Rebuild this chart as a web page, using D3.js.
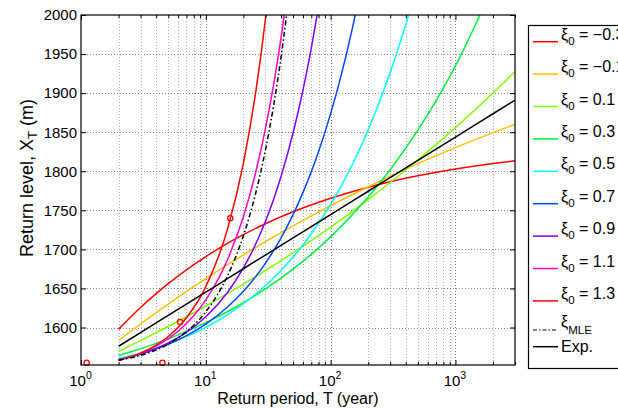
<!DOCTYPE html>
<html><head><meta charset="utf-8">
<script src="https://cdnjs.cloudflare.com/ajax/libs/d3/7.8.5/d3.min.js"></script>
<style>
body{margin:0;background:#fff}
svg{display:block}
text{font-family:"Liberation Sans",Arial,Helvetica,sans-serif;fill:#000}
</style>
</head><body>
<svg id="c" width="618" height="409"></svg>
<script>
// ---- data ----
const periods = [2,3,4,5,7,10,15,20,25,30,35,40,50,60,70,80,100,120,150,200,300,400,500,1000,2000,3000];
const xiNeg03 = [1597.8,1625.6,1643.4,1656.1,1673.8,1690.7,1707.9,1718.8,null,1732.8,null,null,1748.1,null,null,null,1765.4,null,null,1779.5,1786.5,null,1794.1,1802.8,1809.9,1813.4];
const xiNeg01 = [1583.3,1604.5,1619.0,1630.0,1646.1,1662.6,1680.7,1693.0,null,1709.9,null,null,1730.1,null,null,null,1756.0,null,null,1780.2,1793.6,null,1809.7,1830.2,1849.4,1860.0];
const xi01 = [1569.5,1583.2,1593.3,1601.4,1613.8,1627.5,1643.7,1655.5,null,1672.8,null,null,1695.7,null,null,null,1728.6,null,null,1763.8,1785.6,null,1814.4,1855.8,1900.2,1927.6];
const xi03 = [1564,1572.8,1579.7,1585.5,1595.0,1606.2,1620.5,1631.7,null,1649.3,null,null,1674.7,null,null,null,1716.0,null,null,1766.9,1801.9,null,1852.6,1935.0,2036.5,null];
const xi05 = [1560,1567.3,1573.5,1578.9,1588.3,1600.2,1616.6,1630.4,1642.5,1653.5,1663.6,1673.0,1690.2,1705.7,1720.0,1733.3,1757.6,1779.5,1809.3,1852.9,1926.0,1987.7,2042.0,null,null,null];
const xi07 = [1559,1566.1,1572.6,1578.6,1589.6,1604.4,1626.5,1646.3,1664.8,1682.1,1698.7,1714.5,1744.4,1772.6,1799.4,1825.1,1873.8,1919.6,1984.2,2084,null,null,null,null,null,null];
const xi09 = [1558.5,1566.0,1573.2,1580.2,1593.9,1613.7,1645.5,1676.3,1706.2,1735.6,1764.5,1793.0,1848.9,1903.6,1957.6,2010.9,null,null,null,null,null,null,null,null,null,null];
const xi11 = [1558,1566.9,1576.1,1585.6,1605.1,1635.3,1687.7,1741.8,1797.4,1854.2,1911.6,1970.1,2089.3,null,null,null,null,null,null,null,null,null,null,null,null,null];
const xi13 = [1558,1567.2,1577.4,1588.5,1612.5,1652.4,1727.2,1810.0,1899.3,1994.1,2093.8,null,null,null,null,null,null,null,null,null,null,null,null,null,null,null];
const xiMLE = [1558,1564.4,1571.4,1578.8,1594.6,1620.2,1666.9,1717.3,1770.9,1826.8,1885.0,1945.2,2070.6,null,null,null,null,null,null,null,null,null,null,null,null,null];
const expFit = [1576,1593.5,1605.9,1615.5,1630.0,1645.3,1662.8,1675.2,null,1692.7,null,null,1714.7,null,null,null,1744.5,null,null,1774.4,1791.9,null,1813.9,1843.7,1873.6,1891.1];

const obsPeriods = [1.11, 4.49, 6.22, 15.7];
const obsLevels = [1555, 1555, 1607, 1740];

const xiLabels = ["\u22120.3","\u22120.1","0.1","0.3","0.5","0.7","0.9","1.1","1.3"];
const xiColors = ["#ff0000","#ffbf00","#80ff00","#00f040","#00ffff","#0048ff","#8000ff","#ff00c8","#ff0000"];
const xiSeries = [xiNeg03, xiNeg01, xi01, xi03, xi05, xi07, xi09, xi11, xi13];

const yTicks = [1600,1650,1700,1750,1800,1850,1900,1950,2000];
const xMajor = [1,10,100,1000];

// ---- layout ----
const L=81, R=515, T=15, B=365;
const svg = d3.select("#c");
const x = d3.scaleLog().domain([1,3000]).range([L,R]);
const y = d3.scaleLinear().domain([1552,2000]).range([B,T]);

const xMinor = [];
[1,10,100,1000].forEach(d => { for (let k=2;k<=9;k++){ const v=d*k; if (v<=3000) xMinor.push(v);} });

svg.append("defs").append("clipPath").attr("id","pc")
  .append("rect").attr("x",L).attr("y",T).attr("width",R-L).attr("height",B-T);

// grid
const grid = svg.append("g");
grid.selectAll(".vmin").data(xMinor.filter(v=>v<3000)).join("line")
  .attr("x1",d=>Math.round(x(d))+0.5).attr("x2",d=>Math.round(x(d))+0.5)
  .attr("y1",T).attr("y2",B).attr("stroke","#aaa").attr("stroke-width",1).attr("stroke-dasharray","1,2");
grid.selectAll(".vmaj").data(xMajor.slice(1)).join("line")
  .attr("x1",d=>Math.round(x(d))+0.5).attr("x2",d=>Math.round(x(d))+0.5)
  .attr("y1",T).attr("y2",B).attr("stroke","#777").attr("stroke-width",1).attr("stroke-dasharray","1,2");
grid.selectAll(".h").data(yTicks.slice(0,-1)).join("line")
  .attr("x1",L).attr("x2",R).attr("y1",d=>Math.round(y(d))+0.5).attr("y2",d=>Math.round(y(d))+0.5)
  .attr("stroke","#888").attr("stroke-width",1).attr("stroke-dasharray","1,2");

// curves
const line = d3.line().x(d=>x(d[0])).y(d=>y(d[1])).curve(d3.curveMonotoneX);
const pts = arr => periods.map((p,i)=>[p,arr[i]]).filter(d=>d[1]!=null);
const curves = svg.append("g").attr("clip-path","url(#pc)");
xiSeries.forEach((s,i)=>{
  curves.append("path").attr("d",line(pts(s))).attr("fill","none")
    .attr("stroke",xiColors[i]).attr("stroke-width",1.5);
});
curves.append("path").attr("d",line(pts(xiMLE))).attr("fill","none")
  .attr("stroke","#000").attr("stroke-width",1.5).attr("stroke-dasharray","5,2.5,1.5,2.5");
curves.append("path").attr("d",line(pts(expFit))).attr("fill","none")
  .attr("stroke","#000").attr("stroke-width",1.5);

// observations
svg.append("g").selectAll("circle").data(obsPeriods.map((p,i)=>[p,obsLevels[i]])).join("circle")
  .attr("cx",d=>x(d[0])).attr("cy",d=>y(d[1])).attr("r",2.6)
  .attr("fill","none").attr("stroke","#ff0000").attr("stroke-width",1.3);

// axes (ticks inward)
const styleAxis = g => { g.select(".domain").remove(); g.selectAll(".tick line").attr("stroke","#000"); };
svg.append("g").attr("transform",`translate(0,${B})`)
  .call(d3.axisBottom(x).tickValues(xMinor).tickSize(-3).tickFormat(()=>"")).call(styleAxis);
svg.append("g").attr("transform",`translate(0,${T})`)
  .call(d3.axisTop(x).tickValues(xMinor).tickSize(-3).tickFormat(()=>"")).call(styleAxis);
const xb = svg.append("g").attr("transform",`translate(0,${B})`)
  .call(d3.axisBottom(x).tickValues(xMajor).tickSize(-5).tickFormat(()=>"")).call(styleAxis);
svg.append("g").attr("transform",`translate(0,${T})`)
  .call(d3.axisTop(x).tickValues(xMajor).tickSize(-5).tickFormat(()=>"")).call(styleAxis);
xb.selectAll(".tick").append("text")
  .attr("y",20.5).attr("x",-1).attr("text-anchor","middle").attr("font-size",15)
  .each(function(d){
    const t=d3.select(this);
    t.append("tspan").text("10");
    t.append("tspan").attr("dy",-7).attr("font-size",10.5).text(Math.round(Math.log10(d)));
  });
const yl = svg.append("g").attr("transform",`translate(${L},0)`)
  .call(d3.axisLeft(y).tickValues(yTicks).tickSize(-5).tickPadding(4).tickFormat(d3.format("d"))).call(styleAxis);
yl.selectAll(".tick text").attr("font-size",15).attr("font-family","Liberation Sans, Arial, sans-serif").attr("fill","#000");
svg.append("g").attr("transform",`translate(${R},0)`)
  .call(d3.axisRight(y).tickValues(yTicks).tickSize(-5).tickFormat(()=>"")).call(styleAxis);

// box
svg.append("rect").attr("x",L).attr("y",T).attr("width",R-L).attr("height",B-T)
  .attr("fill","none").attr("stroke","#000").attr("stroke-width",1.2);

// axis labels
svg.append("text").attr("x",(L+R)/2).attr("y",404).attr("text-anchor","middle").attr("font-size",16)
  .text("Return period, T (year)");
const ylab = svg.append("text").attr("transform","translate(33,178) rotate(-90)").attr("text-anchor","middle").attr("font-size",18);
ylab.append("tspan").text("Return level, X");
ylab.append("tspan").attr("dy",4).attr("font-size",13).text("T");
ylab.append("tspan").attr("dy",-4).text(" (m)");

// legend
const lg = svg.append("g");
lg.append("rect").attr("x",528.5).attr("y",25.5).attr("width",200).attr("height",343)
  .attr("fill","#fff").attr("stroke","#000").attr("stroke-width",1.2);
const rowY = i => 41.7 + i*32.4;
xiLabels.forEach((lab,i)=>{
  const yy = rowY(i);
  lg.append("line").attr("x1",533).attr("x2",558).attr("y1",yy).attr("y2",yy)
    .attr("stroke",xiColors[i]).attr("stroke-width",1.5);
  const t = lg.append("text").attr("x",561).attr("y",yy-2).attr("font-size",16);
  t.append("tspan").text("\u03be");
  t.append("tspan").attr("dy",5).attr("font-size",11.5).text("0");
  t.append("tspan").attr("dy",-5).text(" = " + lab);
});
{
  const yy = 330;
  lg.append("line").attr("x1",533).attr("x2",558).attr("y1",yy).attr("y2",yy)
    .attr("stroke","#000").attr("stroke-width",1.2).attr("stroke-dasharray","4,2,1.5,2");
  const t = lg.append("text").attr("x",561).attr("y",yy-3).attr("font-size",16);
  t.append("tspan").text("\u03be");
  t.append("tspan").attr("dy",7).attr("font-size",11.5).text("MLE");
  const yy2 = 346.7;
  lg.append("line").attr("x1",533).attr("x2",558).attr("y1",yy2).attr("y2",yy2)
    .attr("stroke","#000").attr("stroke-width",1.5);
  lg.append("text").attr("x",561).attr("y",yy2+5).attr("font-size",16).text("Exp.");
}
</script>
</body></html>
